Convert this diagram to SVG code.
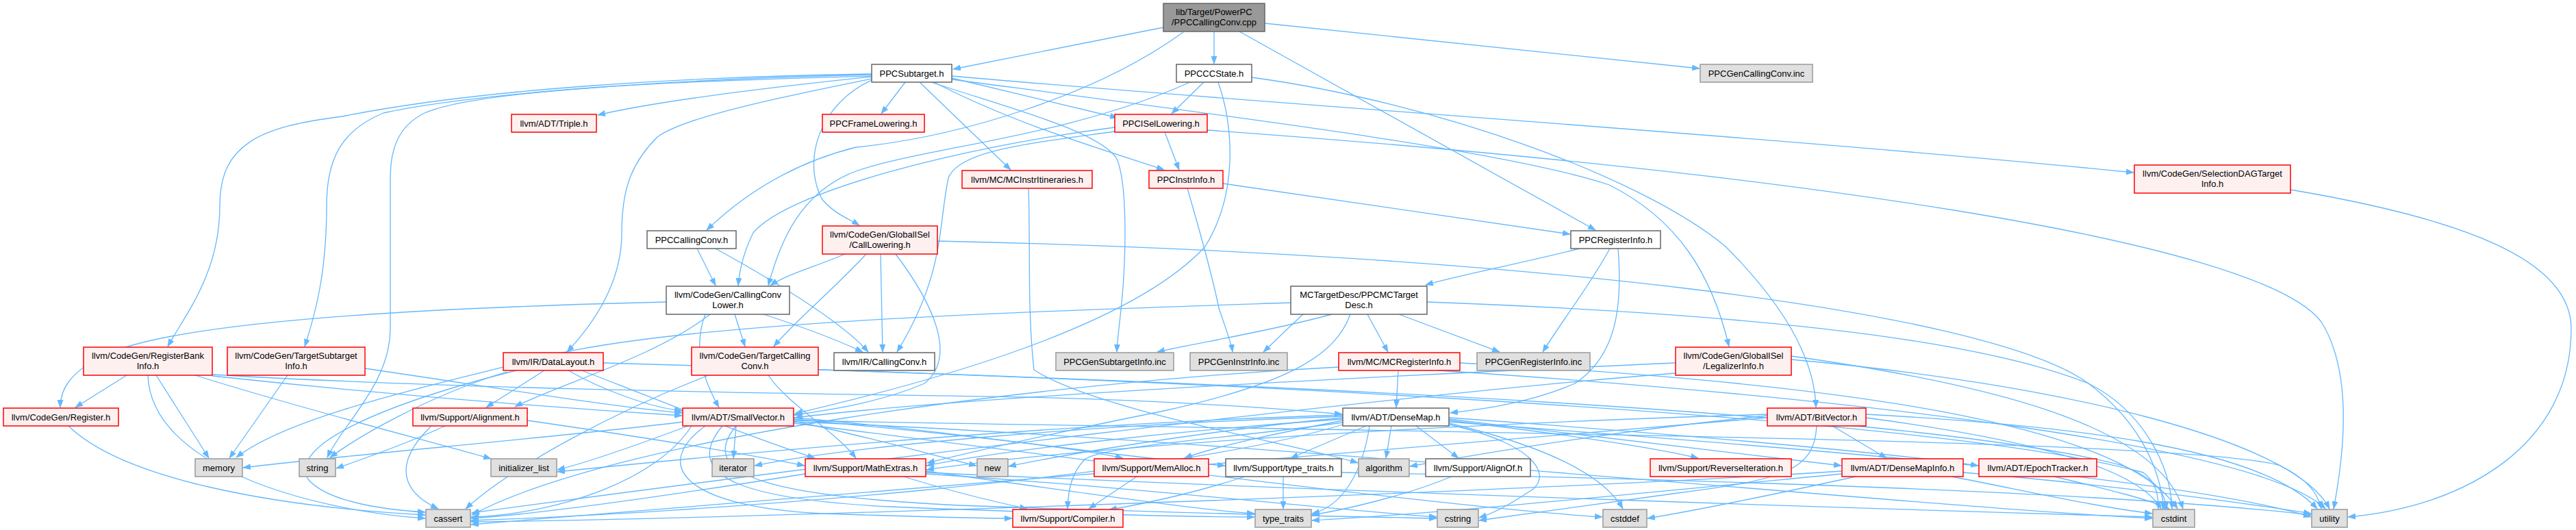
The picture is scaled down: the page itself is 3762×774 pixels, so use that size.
<svg xmlns="http://www.w3.org/2000/svg" width="3762" height="774" viewBox="0 0 3762 774">
<style>
rect{stroke-width:1.5}
.m rect{fill:#999999;stroke:#666666}
.w rect{fill:#ffffff;stroke:#666666}
.g rect{fill:#e0e0e0;stroke:#999999}
.r rect{fill:#fff0f0;stroke:#ff0000}
text{font-family:"Liberation Sans",Arial,sans-serif;font-size:13px;fill:#000;text-anchor:middle}
#edges path{fill:none;stroke:#63b8ff;stroke-width:1.3;marker-end:url(#a)}
</style>
<defs>
<marker id="a" viewBox="0 0 12 9" refX="11" refY="4.5" markerWidth="12" markerHeight="9" markerUnits="userSpaceOnUse" orient="auto"><path d="M0,0 L12,4.5 L0,9 z" fill="#63b8ff"/></marker>
</defs>
<rect x="0" y="0" width="3762" height="774" fill="#ffffff"/>
<g id="edges">
<!-- main -->
<path d="M1699,40 L1392,101"/>
<path d="M1773,46 L1773,93"/>
<path d="M1847,34 L2482,100"/>
<path d="M1810,46 L2330,336"/>
<path d="M1728,47 C1600,140 1400,200 1250,215 C1150,240 1080,290 1032,336"/>
<!-- PPCSubtarget -->
<path d="M1273,112 C1100,130 950,150 873,168"/>
<path d="M1273,108 C1000,112 700,130 500,170 C380,185 321,210 321,300 C321,400 270,460 245,506"/>
<path d="M1273,109 C1000,115 700,135 560,165 C500,190 477,230 477,300 C477,400 460,460 445,506"/>
<path d="M1273,111 C1000,118 700,130 620,165 C580,185 570,220 570,260 L570,480 C570,560 500,620 478,668"/>
<path d="M1273,115 C1150,140 1000,170 960,200 C920,240 908,280 908,340 C908,420 860,480 828,514"/>
<path d="M1322,120 L1287,166"/>
<path d="M1273,117 C1200,150 1170,230 1200,290 C1215,310 1240,320 1255,329"/>
<path d="M1343,120 L1476,248"/>
<path d="M1364,120 C1480,180 1600,215 1700,248"/>
<path d="M1360,120 C1480,160 1600,190 1630,230 C1645,260 1645,350 1640,420 C1636,470 1632,490 1631,514"/>
<path d="M1390,114 L1632,172"/>
<path d="M1390,111 C1800,148 2600,200 3116,252"/>
<path d="M1390,116 C1800,170 2200,220 2350,270 C2450,320 2500,400 2525,506"/>
<!-- PPCCCState -->
<path d="M1758,120 L1711,166"/>
<path d="M1738,120 C1560,200 1350,215 1250,250 C1170,280 1140,350 1122,417"/>
<path d="M1779,120 C1800,180 1810,280 1760,360 C1650,480 1350,560 1161,604"/>
<path d="M1828,113 C2100,150 2400,260 2520,360 C2600,440 2650,520 2652,595"/>
<!-- PPCISelLowering -->
<path d="M1701,193 L1722,248"/>
<path d="M1628,186 C1400,215 1150,280 1100,340 C1085,370 1080,395 1078,417"/>
<path d="M1628,192 C1500,210 1400,220 1385,260 C1370,330 1380,400 1310,514"/>
<path d="M1763,190 C2600,250 3300,350 3390,470 C3440,550 3420,680 3408,743"/>
<!-- PPCInstrInfo -->
<path d="M1786,268 C2000,300 2150,320 2293,342"/>
<path d="M1734,275 C1750,330 1770,400 1780,450 C1790,480 1798,500 1800,514"/>
<!-- PPCRegisterInfo -->
<path d="M2307,363 C2220,385 2140,400 2082,416"/>
<path d="M2351,363 C2320,420 2280,470 2253,514"/>
<path d="M2363,363 C2370,450 2360,520 2300,560 C2230,590 2160,598 2118,603"/>
<!-- MCInstrItineraries -->
<path d="M1502,275 C1505,350 1500,450 1510,540 C1600,600 1900,650 1983,676"/>
<!-- PPCCallingConv.h -->
<path d="M1018,363 L1045,417"/>
<path d="M1045,363 C1130,410 1230,470 1268,514"/>
<!-- CallLowering -->
<path d="M1234,371 C1190,390 1150,400 1125,417"/>
<path d="M1265,371 C1220,420 1160,470 1130,506"/>
<path d="M1286,371 L1289,514"/>
<path d="M1308,371 C1360,440 1400,520 1350,560 C1280,590 1200,600 1160,606"/>
<path d="M1369,352 C2200,370 2900,450 3050,560 C3130,620 3155,690 3160,743"/>
<!-- CallingConvLower -->
<path d="M973,441 C600,450 250,470 150,520 C100,545 88,570 88,595"/>
<path d="M1030,459 C1010,510 1030,560 1050,595"/>
<path d="M1073,459 L1088,506"/>
<path d="M1115,459 C1180,480 1230,500 1260,514"/>
<path d="M1037,459 C960,520 820,560 752,594"/>
<!-- MCTargetDesc -->
<path d="M1997,459 L2027,514"/>
<path d="M2043,459 L2190,514"/>
<path d="M1903,459 C1880,480 1860,500 1845,514"/>
<path d="M1945,459 C1850,485 1750,500 1690,514"/>
<path d="M1972,459 C1950,520 1880,560 1700,600 C1500,640 1400,665 1354,676"/>
<path d="M1885,442 C1500,455 1000,470 800,520 C600,570 420,610 345,668"/>
<path d="M2084,441 C2600,460 2900,500 3050,560 C3130,600 3170,680 3172,743"/>
<!-- RegisterBankInfo -->
<path d="M185,548 L110,595"/>
<path d="M216,548 C220,680 450,745 621,757"/>
<path d="M228,548 L305,669"/>
<path d="M285,548 C450,600 650,650 717,670"/>
<path d="M310,547 C700,570 1200,575 1500,580 C1700,585 1850,595 1960,605"/>
<path d="M310,549 C600,580 850,598 996,607"/>
<!-- TargetSubtargetInfo -->
<path d="M420,548 L335,669"/>
<path d="M533,538 C750,570 900,595 996,603"/>
<!-- DataLayout -->
<path d="M795,541 L710,595"/>
<path d="M754,541 C560,590 420,650 450,700 C480,735 570,745 621,748"/>
<path d="M740,543 C620,580 520,640 482,668"/>
<path d="M830,541 C880,570 950,595 996,600"/>
<path d="M850,541 C950,580 1100,640 1190,669"/>
<path d="M881,530 C1600,550 2800,600 3130,690 C3150,705 3152,725 3152,743"/>
<!-- TargetCallingConv -->
<path d="M1122,548 C1150,590 1220,630 1250,669"/>
<path d="M1035,548 C900,600 750,680 680,743"/>
<path d="M1195,540 C1800,560 2800,600 3100,680 C3150,700 3162,720 3164,743"/>
<!-- MCRegisterInfo -->
<path d="M2042,541 L2039,595"/>
<path d="M1955,536 C1500,560 900,640 689,752"/>
<path d="M2132,530 C2700,560 3100,620 3180,743"/>
<path d="M2100,541 C2700,580 3300,650 3396,743"/>
<!-- LegalizerInfo -->
<path d="M2447,530 C2000,550 1400,580 1161,610"/>
<path d="M2447,545 C2000,580 1200,680 689,749"/>
<path d="M2616,520 C2900,560 3150,620 3188,743"/>
<path d="M2616,525 C3000,560 3350,640 3402,743"/>
<!-- SelectionDAGTargetInfo -->
<path d="M3345,277 C3600,320 3755,380 3755,480 C3755,650 3600,740 3429,755"/>
<!-- Register / Alignment -->
<path d="M100,622 C180,700 400,740 621,752"/>
<path d="M630,622 C570,680 590,720 640,743"/>
<path d="M650,622 C590,650 530,670 491,684"/>
<path d="M770,614 C950,640 1100,665 1175,680"/>
<!-- SmallVector -->
<path d="M1075,622 L1071,669"/>
<path d="M999,616 C800,640 500,665 355,683"/>
<path d="M1005,622 C930,650 860,675 814,686"/>
<path d="M1010,622 C960,700 820,750 688,755"/>
<path d="M1159,615 C1280,640 1380,670 1426,680"/>
<path d="M1159,612 C1350,630 1550,650 1640,669"/>
<path d="M1159,610 C1400,630 1650,670 1789,680"/>
<path d="M1030,622 C950,680 1000,740 1200,750 C1350,755 1430,757 1478,757"/>
<path d="M1055,622 C990,700 1100,730 1300,740 C1600,752 1750,755 1832,755"/>
<path d="M1075,622 C1010,700 1150,725 1400,738 C1800,752 2000,755 2098,757"/>
<path d="M1159,618 C1500,660 2100,740 2340,755"/>
<path d="M1159,616 C1800,640 2800,740 3143,757"/>
<path d="M1159,614 C2000,630 3200,640 3330,680 C3370,700 3385,720 3390,743"/>
<!-- DenseMap -->
<path d="M2032,622 L2024,669"/>
<path d="M2068,622 L2130,669"/>
<path d="M1995,622 L1885,669"/>
<path d="M2116,614 C2250,630 2400,650 2480,669"/>
<path d="M2116,612 C2350,640 2600,670 2689,680"/>
<path d="M2116,610 C2400,630 2750,660 2889,680"/>
<path d="M2116,618 C2250,650 2340,690 2370,743"/>
<path d="M2116,620 C2250,650 2270,700 2230,720 C2200,740 2180,750 2160,756"/>
<path d="M1961,617 C1800,640 1620,650 1585,670 C1565,690 1560,715 1559,743"/>
<path d="M1961,612 C1700,630 1450,660 1353,680"/>
<path d="M1961,614 C1880,630 1780,650 1730,669"/>
<path d="M1961,610 C1750,630 1550,665 1473,681"/>
<path d="M1961,608 C1600,620 1250,650 1102,680"/>
<path d="M1961,606 C1500,620 1000,670 814,689"/>
<path d="M1961,620 C1700,700 1000,750 688,760"/>
<path d="M2000,622 C1990,690 1960,740 1916,750"/>
<path d="M2116,616 C2700,660 3200,700 3375,755"/>
<!-- BitVector -->
<path d="M2676,622 L2755,669"/>
<path d="M2581,607 C2350,630 2150,665 2059,681"/>
<path d="M2581,605 C2100,620 1600,650 1353,686"/>
<path d="M2581,610 C2000,660 1000,740 688,766"/>
<path d="M2653,622 C2650,690 2600,700 2450,720 C2300,740 2200,755 2160,760"/>
<path d="M2725,610 C2950,640 3120,680 3156,743"/>
<path d="M2725,605 C3000,620 3300,650 3384,743"/>
<!-- DenseMapInfo / EpochTracker -->
<path d="M2710,696 C2600,720 2480,745 2406,757"/>
<path d="M2850,696 C2950,715 3060,740 3143,750"/>
<path d="M2867,690 C3050,705 3250,730 3375,750"/>
<path d="M2690,688 C2200,720 1000,760 688,762"/>
<path d="M2690,692 C2400,720 2100,750 1916,760"/>
<path d="M3000,696 C3080,715 3140,730 3168,743"/>
<!-- MathExtras / MemAlloc / type_traits.h / AlignOf -->
<path d="M1320,696 C1380,715 1440,730 1500,743"/>
<path d="M1176,692 C1000,720 800,750 688,757"/>
<path d="M1352,690 C2000,720 2800,745 3143,755"/>
<path d="M1352,692 C1700,715 1950,745 2098,755"/>
<path d="M1352,688 C1550,715 1750,745 1832,750"/>
<path d="M1660,696 L1590,743"/>
<path d="M1818,696 C1760,715 1680,735 1620,744"/>
<path d="M1874,696 L1874,743"/>
<path d="M1959,690 C2500,700 3100,720 3375,752"/>
<path d="M2120,696 C2050,725 1960,745 1916,752"/>
</g>
<g id="n1" class="m"><rect x="1699" y="5" width="148" height="41"/><text x="1773" y="22">lib/Target/PowerPC</text><text x="1773" y="37">/PPCCallingConv.cpp</text></g>
<g id="n2" class="w"><rect x="1273" y="94" width="117" height="26"/><text x="1331.5" y="111.5">PPCSubtarget.h</text></g>
<g id="n3" class="w"><rect x="1718" y="94" width="110" height="26"/><text x="1773" y="111.5">PPCCCState.h</text></g>
<g id="n4" class="g"><rect x="2483" y="94" width="164" height="26"/><text x="2565" y="111.5">PPCGenCallingConv.inc</text></g>
<g id="n5" class="r"><rect x="747" y="167" width="124" height="26"/><text x="809" y="184.5">llvm/ADT/Triple.h</text></g>
<g id="n6" class="r"><rect x="1201" y="167" width="149" height="26"/><text x="1275.5" y="184.5">PPCFrameLowering.h</text></g>
<g id="n7" class="r"><rect x="1628" y="167" width="135" height="26"/><text x="1695.5" y="184.5">PPCISelLowering.h</text></g>
<g id="n8" class="r"><rect x="3117" y="241" width="228" height="41"/><text x="3231" y="258">llvm/CodeGen/SelectionDAGTarget</text><text x="3231" y="273">Info.h</text></g>
<g id="n9" class="r"><rect x="1405" y="249" width="190" height="26"/><text x="1500" y="266.5">llvm/MC/MCInstrItineraries.h</text></g>
<g id="n10" class="r"><rect x="1678" y="249" width="108" height="26"/><text x="1732" y="266.5">PPCInstrInfo.h</text></g>
<g id="n11" class="w"><rect x="945" y="337" width="130" height="26"/><text x="1010" y="354.5">PPCCallingConv.h</text></g>
<g id="n12" class="r"><rect x="1201" y="330" width="168" height="41"/><text x="1285" y="347">llvm/CodeGen/GlobalISel</text><text x="1285" y="362">/CallLowering.h</text></g>
<g id="n13" class="w"><rect x="2294" y="337" width="131" height="26"/><text x="2359.5" y="354.5">PPCRegisterInfo.h</text></g>
<g id="n14" class="w"><rect x="973" y="418" width="180" height="41"/><text x="1063" y="435">llvm/CodeGen/CallingConv</text><text x="1063" y="450">Lower.h</text></g>
<g id="n15" class="w"><rect x="1885" y="418" width="199" height="41"/><text x="1984.5" y="435">MCTargetDesc/PPCMCTarget</text><text x="1984.5" y="450">Desc.h</text></g>
<g id="n16" class="r"><rect x="122" y="507" width="188" height="41"/><text x="216" y="524">llvm/CodeGen/RegisterBank</text><text x="216" y="539">Info.h</text></g>
<g id="n17" class="r"><rect x="332" y="507" width="201" height="41"/><text x="432.5" y="524">llvm/CodeGen/TargetSubtarget</text><text x="432.5" y="539">Info.h</text></g>
<g id="n18" class="r"><rect x="735" y="515" width="146" height="26"/><text x="808" y="532.5">llvm/IR/DataLayout.h</text></g>
<g id="n19" class="r"><rect x="1010" y="507" width="185" height="41"/><text x="1102.5" y="524">llvm/CodeGen/TargetCalling</text><text x="1102.5" y="539">Conv.h</text></g>
<g id="n20" class="w"><rect x="1218" y="515" width="147" height="26"/><text x="1291.5" y="532.5">llvm/IR/CallingConv.h</text></g>
<g id="n21" class="g"><rect x="1542" y="515" width="172" height="26"/><text x="1628" y="532.5">PPCGenSubtargetInfo.inc</text></g>
<g id="n22" class="g"><rect x="1738" y="515" width="142" height="26"/><text x="1809" y="532.5">PPCGenInstrInfo.inc</text></g>
<g id="n23" class="r"><rect x="1955" y="515" width="177" height="26"/><text x="2043.5" y="532.5">llvm/MC/MCRegisterInfo.h</text></g>
<g id="n24" class="g"><rect x="2157" y="515" width="165" height="26"/><text x="2239.5" y="532.5">PPCGenRegisterInfo.inc</text></g>
<g id="n25" class="r"><rect x="2447" y="507" width="169" height="41"/><text x="2531.5" y="524">llvm/CodeGen/GlobalISel</text><text x="2531.5" y="539">/LegalizerInfo.h</text></g>
<g id="n26" class="r"><rect x="5" y="596" width="168" height="26"/><text x="89" y="613.5">llvm/CodeGen/Register.h</text></g>
<g id="n27" class="r"><rect x="603" y="596" width="167" height="26"/><text x="686.5" y="613.5">llvm/Support/Alignment.h</text></g>
<g id="n28" class="r"><rect x="997" y="596" width="162" height="26"/><text x="1078" y="613.5">llvm/ADT/SmallVector.h</text></g>
<g id="n29" class="w"><rect x="1961" y="596" width="155" height="26"/><text x="2038.5" y="613.5">llvm/ADT/DenseMap.h</text></g>
<g id="n30" class="r"><rect x="2581" y="596" width="144" height="26"/><text x="2653" y="613.5">llvm/ADT/BitVector.h</text></g>
<g id="n31" class="g"><rect x="285" y="670" width="69" height="26"/><text x="319.5" y="687.5">memory</text></g>
<g id="n32" class="g"><rect x="437" y="670" width="53" height="26"/><text x="463.5" y="687.5">string</text></g>
<g id="n33" class="g"><rect x="717" y="670" width="96" height="26"/><text x="765" y="687.5">initializer_list</text></g>
<g id="n34" class="g"><rect x="1040" y="670" width="61" height="26"/><text x="1070.5" y="687.5">iterator</text></g>
<g id="n35" class="r"><rect x="1176" y="670" width="176" height="26"/><text x="1264" y="687.5">llvm/Support/MathExtras.h</text></g>
<g id="n36" class="g"><rect x="1427" y="670" width="45" height="26"/><text x="1449.5" y="687.5">new</text></g>
<g id="n37" class="r"><rect x="1598" y="670" width="167" height="26"/><text x="1681.5" y="687.5">llvm/Support/MemAlloc.h</text></g>
<g id="n38" class="w"><rect x="1790" y="670" width="169" height="26"/><text x="1874.5" y="687.5">llvm/Support/type_traits.h</text></g>
<g id="n39" class="g"><rect x="1984" y="670" width="74" height="26"/><text x="2021" y="687.5">algorithm</text></g>
<g id="n40" class="w"><rect x="2082" y="670" width="153" height="26"/><text x="2158.5" y="687.5">llvm/Support/AlignOf.h</text></g>
<g id="n41" class="r"><rect x="2410" y="670" width="206" height="26"/><text x="2513" y="687.5">llvm/Support/ReverseIteration.h</text></g>
<g id="n42" class="r"><rect x="2690" y="670" width="177" height="26"/><text x="2778.5" y="687.5">llvm/ADT/DenseMapInfo.h</text></g>
<g id="n43" class="r"><rect x="2890" y="670" width="172" height="26"/><text x="2976" y="687.5">llvm/ADT/EpochTracker.h</text></g>
<g id="n44" class="g"><rect x="622" y="744" width="65" height="26"/><text x="654.5" y="761.5">cassert</text></g>
<g id="n45" class="r"><rect x="1479" y="744" width="161" height="26"/><text x="1559.5" y="761.5">llvm/Support/Compiler.h</text></g>
<g id="n46" class="g"><rect x="1833" y="744" width="82" height="26"/><text x="1874" y="761.5">type_traits</text></g>
<g id="n47" class="g"><rect x="2099" y="744" width="60" height="26"/><text x="2129" y="761.5">cstring</text></g>
<g id="n48" class="g"><rect x="2341" y="744" width="64" height="26"/><text x="2373" y="761.5">cstddef</text></g>
<g id="n49" class="g"><rect x="3144" y="744" width="61" height="26"/><text x="3174.5" y="761.5">cstdint</text></g>
<g id="n50" class="g"><rect x="3376" y="744" width="52" height="26"/><text x="3402" y="761.5">utility</text></g>
</svg>
